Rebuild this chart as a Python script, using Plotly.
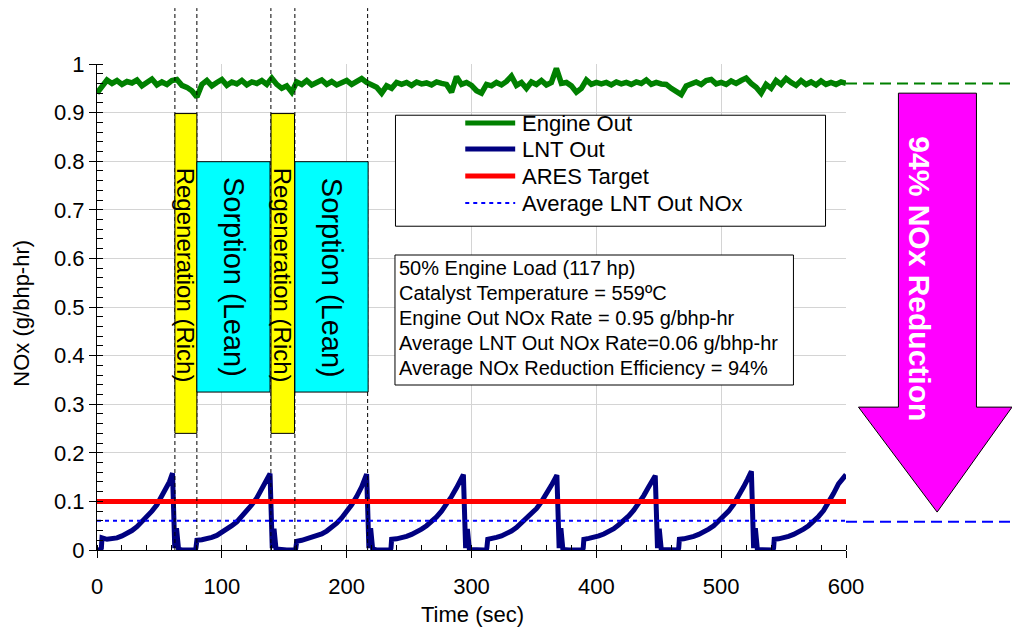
import plotly.graph_objects as go

# ---------------- data ----------------
X_RANGE = [0, 600]
Y_RANGE = [0, 1]

series_names = ["Engine Out", "LNT Out", "ARES Target", "Average LNT Out NOx"]
series_colors = ["#008000", "#000080", "#FF0000", "#0000FF"]

engine_time = list(range(0, 601, 4))
engine_nox = [
    0.940, 0.955, 0.967, 0.960, 0.966, 0.958, 0.964, 0.961, 0.967, 0.955,
    0.963, 0.969, 0.957, 0.963, 0.958, 0.966, 0.968, 0.956, 0.952, 0.945,
    0.932, 0.958, 0.966, 0.955, 0.962, 0.968, 0.956, 0.963, 0.959, 0.966,
    0.957, 0.963, 0.960, 0.966, 0.958, 0.971, 0.958, 0.950, 0.955, 0.942,
    0.963, 0.958, 0.966, 0.957, 0.962, 0.967, 0.958, 0.964, 0.957, 0.962,
    0.966, 0.958, 0.963, 0.970, 0.962, 0.958, 0.952, 0.940, 0.955, 0.950,
    0.962, 0.958, 0.962, 0.956, 0.963, 0.959, 0.961, 0.957, 0.963, 0.960,
    0.958, 0.942, 0.974, 0.958, 0.962, 0.956, 0.945, 0.940, 0.958, 0.955,
    0.962, 0.957, 0.964, 0.975, 0.956, 0.962, 0.950, 0.963, 0.958, 0.966,
    0.957, 0.962, 0.991, 0.960, 0.962, 0.955, 0.942, 0.950, 0.967, 0.958,
    0.962, 0.959, 0.962, 0.957, 0.963, 0.959, 0.962, 0.958, 0.963, 0.960,
    0.967, 0.958, 0.962, 0.959, 0.958, 0.950, 0.945, 0.937, 0.955, 0.960,
    0.963, 0.958, 0.966, 0.968, 0.959, 0.962, 0.958, 0.965, 0.960, 0.966,
    0.971, 0.960, 0.952, 0.940, 0.958, 0.950, 0.966, 0.958, 0.970, 0.962,
    0.956, 0.966, 0.958, 0.963, 0.957, 0.965, 0.958, 0.962, 0.958, 0.963,
    0.960,
]

lnt_time = (
    [0, 2, 3.5, 4, 8, 12, 16, 20, 24, 28, 32, 36, 40, 44, 48, 52, 56, 58, 60.5,
     62.3, 63.7, 65.3, 68, 72, 76, 78.8]
    + [79.3, 80, 84, 88, 92, 96, 100, 104, 108, 112, 116, 120, 124, 128, 132, 136, 138.6,
       140.4, 141.8, 143.4, 148, 152, 156, 158.8]
    + [159.3, 160, 164, 168, 172, 176, 180, 184, 188, 192, 196, 200, 204, 208, 212, 216,
       217.8, 219.2, 220.8, 224, 228, 232, 235]
    + [235.5, 236, 240, 244, 248, 252, 256, 260, 264, 268, 272, 276, 280, 284, 288, 291, 293.5,
       295.3, 296.7, 298.3, 302, 306, 310, 311.8]
    + [312.3, 313, 316, 320, 324, 328, 332, 336, 340, 344, 348, 352, 356, 360, 364, 368.4,
       370.2, 371.6, 373.2, 378, 384, 389]
    + [389.5, 390, 394, 398, 402, 406, 410, 414, 418, 422, 426, 430, 434, 438, 442, 447.2,
       449.0, 450.4, 452, 456, 460, 465.5]
    + [466, 466.5, 470, 474, 478, 482, 486, 490, 494, 498, 502, 506, 510, 514, 518, 521, 524.2,
       526, 527.4, 529, 534, 538, 541.5]
    + [542, 542.5, 546, 550, 554, 558, 562, 566, 570, 574, 578, 582, 586, 590, 594, 597, 600]
)
lnt_nox = (
    [0, 0, 0.004, 0.025, 0.022, 0.023, 0.025, 0.029, 0.034, 0.040, 0.048, 0.058, 0.069, 0.080,
     0.093, 0.110, 0.130, 0.140, 0.158, 0.004, 0.045, 0.002, 0, 0, 0, 0]
    + [0.005, 0.020, 0.021, 0.023, 0.026, 0.030, 0.036, 0.042, 0.050, 0.058, 0.069, 0.080, 0.093,
       0.107, 0.124, 0.143, 0.157, 0.004, 0.044, 0.002, 0, 0, 0, 0]
    + [0.004, 0.018, 0.020, 0.023, 0.025, 0.028, 0.033, 0.039, 0.046, 0.055, 0.066, 0.078, 0.093,
       0.110, 0.130, 0.156, 0.004, 0.045, 0.002, 0, 0, 0, 0]
    + [0.004, 0.022, 0.023, 0.025, 0.028, 0.032, 0.037, 0.043, 0.050, 0.058, 0.068, 0.080, 0.094,
       0.110, 0.128, 0.142, 0.155, 0.004, 0.043, 0.001, 0, 0, 0, 0]
    + [0.004, 0.022, 0.023, 0.026, 0.029, 0.033, 0.039, 0.046, 0.055, 0.064, 0.074, 0.085, 0.099,
       0.115, 0.133, 0.154, 0.004, 0.045, 0.001, 0, 0, 0]
    + [0.004, 0.022, 0.024, 0.026, 0.029, 0.033, 0.038, 0.044, 0.052, 0.060, 0.070, 0.082, 0.096,
       0.112, 0.130, 0.153, 0.004, 0.044, 0.001, 0, 0, 0]
    + [0.004, 0.022, 0.023, 0.025, 0.028, 0.032, 0.037, 0.043, 0.050, 0.059, 0.069, 0.080, 0.094,
       0.110, 0.130, 0.145, 0.162, 0.004, 0.045, 0.001, 0, 0, 0]
    + [0.004, 0.022, 0.023, 0.025, 0.028, 0.032, 0.037, 0.043, 0.050, 0.059, 0.069, 0.081, 0.097,
       0.116, 0.136, 0.147, 0.155]
)

ares_target = 0.10
avg_lnt_nox = 0.06
engine_level_ref = 0.96
lnt_level_ref = 0.058

# cycle phase boundaries (s) and phase boxes
phase_lines = [62.4, 80.0, 139.3, 158.5, 216.8]
regen_x0 = [62.4, 139.4]
regen_x1 = [80.0, 158.2]
regen_y = [0.24, 0.898]
sorp_x0 = [80.0, 158.5]
sorp_x1 = [138.6, 217.2]
sorp_y = [0.325, 0.799]
regen_label = "Regeneration (Rich)"
sorp_label = "Sorption (Lean)"

info_lines = [
    "50% Engine Load (117 hp)",
    "Catalyst Temperature = 559ºC",
    "Engine Out NOx Rate = 0.95 g/bhp-hr",
    "Average LNT Out NOx Rate=0.06 g/bhp-hr",
    "Average NOx Reduction Efficiency = 94%",
]
reduction_label = "94% NOx Reduction"
x_title = "Time (sec)"
y_title = "NOx (g/bhp-hr)"

x_ticks = [0, 100, 200, 300, 400, 500, 600]
y_ticks = [0, 0.1, 0.2, 0.3, 0.4, 0.5, 0.6, 0.7, 0.8, 0.9, 1]
y_tick_text = ["0", "0.1", "0.2", "0.3", "0.4", "0.5", "0.6", "0.7", "0.8", "0.9", "1"]

FONT = "Arial, 'Liberation Sans', sans-serif"


def xp(x):
    return (x - X_RANGE[0]) / (X_RANGE[1] - X_RANGE[0])


def yp(y):
    return (y - Y_RANGE[0]) / (Y_RANGE[1] - Y_RANGE[0])


fig = go.Figure()
fig.add_trace(go.Scatter(x=engine_time, y=engine_nox, mode="lines", name=series_names[0],
                         line=dict(color=series_colors[0], width=5.5), showlegend=False))
fig.add_trace(go.Scatter(x=lnt_time, y=lnt_nox, mode="lines", name=series_names[1],
                         line=dict(color=series_colors[1], width=5), showlegend=False))
fig.add_trace(go.Scatter(x=X_RANGE, y=[avg_lnt_nox] * 2, mode="lines", name=series_names[3],
                         line=dict(color=series_colors[3], width=2, dash="4px,4px"), showlegend=False))
fig.add_trace(go.Scatter(x=X_RANGE, y=[ares_target] * 2, mode="lines", name=series_names[2],
                         line=dict(color=series_colors[2], width=5), showlegend=False))

shapes = []
annotations = []

# vertical dashed phase lines (extend above the plot)
for t in phase_lines:
    shapes.append(dict(type="line", xref="paper", yref="paper", x0=xp(t), x1=xp(t), y0=0, y1=1.115,
                       line=dict(color="black", width=1, dash="4px,3px"), layer="above"))

# phase boxes
for a, b in zip(regen_x0, regen_x1):
    shapes.append(dict(type="rect", xref="x", yref="y", x0=a, x1=b, y0=regen_y[0], y1=regen_y[1],
                       fillcolor="#FFFF00", line=dict(color="black", width=1), layer="above"))
    annotations.append(dict(x=(a + b) / 2 - 0.5, y=0.566, xref="x", yref="y", text=regen_label,
                            textangle=90, showarrow=False, font=dict(family=FONT, size=24, color="black")))
for a, b in zip(sorp_x0, sorp_x1):
    shapes.append(dict(type="rect", xref="x", yref="y", x0=a, x1=b, y0=sorp_y[0], y1=sorp_y[1],
                       fillcolor="#00FFFF", line=dict(color="black", width=1), layer="above"))
    annotations.append(dict(x=(a + b) / 2, y=0.561, xref="x", yref="y", text=sorp_label,
                            textangle=90, showarrow=False, font=dict(family=FONT, size=29, color="black")))

# legend box (manual)
shapes.append(dict(type="rect", xref="x", yref="y", x0=239.1, x1=583.6, y0=0.6662, y1=0.8946,
                   fillcolor="white", line=dict(color="black", width=1), layer="above"))
legend_rows = [0.8786, 0.8251, 0.7695, 0.714]
legend_order = [0, 1, 2, 3]
for row_y, idx in zip(legend_rows, legend_order):
    dash = "4px,4px" if idx == 3 else "solid"
    width = 2 if idx == 3 else 5
    shapes.append(dict(type="line", xref="x", yref="y", x0=295, x1=335, y0=row_y, y1=row_y,
                       line=dict(color=series_colors[idx], width=width, dash=dash), layer="above"))
    annotations.append(dict(x=339, y=row_y, xref="x", yref="y", text=series_names[idx],
                            xanchor="left", yanchor="middle", showarrow=False,
                            font=dict(family=FONT, size=22, color="black")))

# info text box
shapes.append(dict(type="rect", xref="x", yref="y", x0=238.7, x1=557.9, y0=0.3395, y1=0.607,
                   fillcolor="white", line=dict(color="black", width=1), layer="above"))
info_rows = [0.5802, 0.5288, 0.4774, 0.4259, 0.3745]
for row_y, txt in zip(info_rows, info_lines):
    annotations.append(dict(x=240.0, y=row_y, xref="x", yref="y", text=txt,
                            xanchor="left", yanchor="middle", showarrow=False,
                            font=dict(family=FONT, size=20, color="black")))

# reference dashed levels to the right of the plot
shapes.append(dict(type="line", xref="paper", yref="paper", x0=1, x1=1.23,
                   y0=yp(engine_level_ref), y1=yp(engine_level_ref),
                   line=dict(color="#008000", width=2, dash="11px,6px")))
shapes.append(dict(type="line", xref="paper", yref="paper", x0=1, x1=1.23,
                   y0=yp(lnt_level_ref), y1=yp(lnt_level_ref),
                   line=dict(color="#0000FF", width=2, dash="11px,6px")))

# magenta reduction arrow (in data units, drawn in paper space)
shaft_x = [642, 704.5]
head_x = [610, 733]
tip_x = 673
arrow_top, head_base, arrow_tip = 0.94, 0.294, 0.078
path = (f"M {xp(shaft_x[0])},{yp(arrow_top)} L {xp(shaft_x[1])},{yp(arrow_top)} "
        f"L {xp(shaft_x[1])},{yp(head_base)} L {xp(head_x[1])},{yp(head_base)} "
        f"L {xp(tip_x)},{yp(arrow_tip)} L {xp(head_x[0])},{yp(head_base)} "
        f"L {xp(shaft_x[0])},{yp(head_base)} Z")
shapes.append(dict(type="path", xref="paper", yref="paper", path=path,
                   fillcolor="#FF00FF", line=dict(color="black", width=1)))
annotations.append(dict(x=xp(673.5), y=yp(0.5586), xref="paper", yref="paper", text=reduction_label,
                        textangle=90, showarrow=False,
                        font=dict(family=FONT, size=30, color="white", weight="bold")))

# axis titles
annotations.append(dict(x=xp(301), y=-0.133, xref="paper", yref="paper", text=x_title,
                        showarrow=False, xanchor="center", yanchor="middle",
                        font=dict(family=FONT, size=22, color="black")))
annotations.append(dict(x=-0.1006, y=0.4877, xref="paper", yref="paper", text=y_title,
                        showarrow=False, textangle=-90, xanchor="center", yanchor="middle",
                        font=dict(family=FONT, size=22, color="black")))

fig.update_layout(
    width=1012, height=630,
    margin=dict(l=97, r=166, t=64, b=80, autoexpand=False),
    paper_bgcolor="white", plot_bgcolor="white",
    showlegend=False,
    shapes=shapes, annotations=annotations,
    font=dict(family=FONT, color="black"),
)
fig.update_xaxes(
    range=X_RANGE, tickvals=x_ticks, ticktext=[str(v) for v in x_ticks], automargin=False,
    showgrid=True, gridcolor="#d4d4d4", gridwidth=1, zeroline=False,
    showline=True, linecolor="black", linewidth=1,
    ticks="outside", ticklen=7, tickcolor="black", ticklabelstandoff=10,
    tickfont=dict(family=FONT, size=22, color="black"),
    minor=dict(dtick=20, ticks="inside", ticklen=5, tickcolor="black", showgrid=False),
)
fig.update_yaxes(
    range=Y_RANGE, tickvals=y_ticks, ticktext=y_tick_text, automargin=False,
    showgrid=True, gridcolor="#d4d4d4", gridwidth=1, zeroline=False,
    showline=True, linecolor="black", linewidth=1,
    ticks="outside", ticklen=7, tickcolor="black",
    tickfont=dict(family=FONT, size=22, color="black"),
    minor=dict(dtick=0.02, ticks="inside", ticklen=6, tickcolor="black", showgrid=False),
)

fig.write_html("out.html")
